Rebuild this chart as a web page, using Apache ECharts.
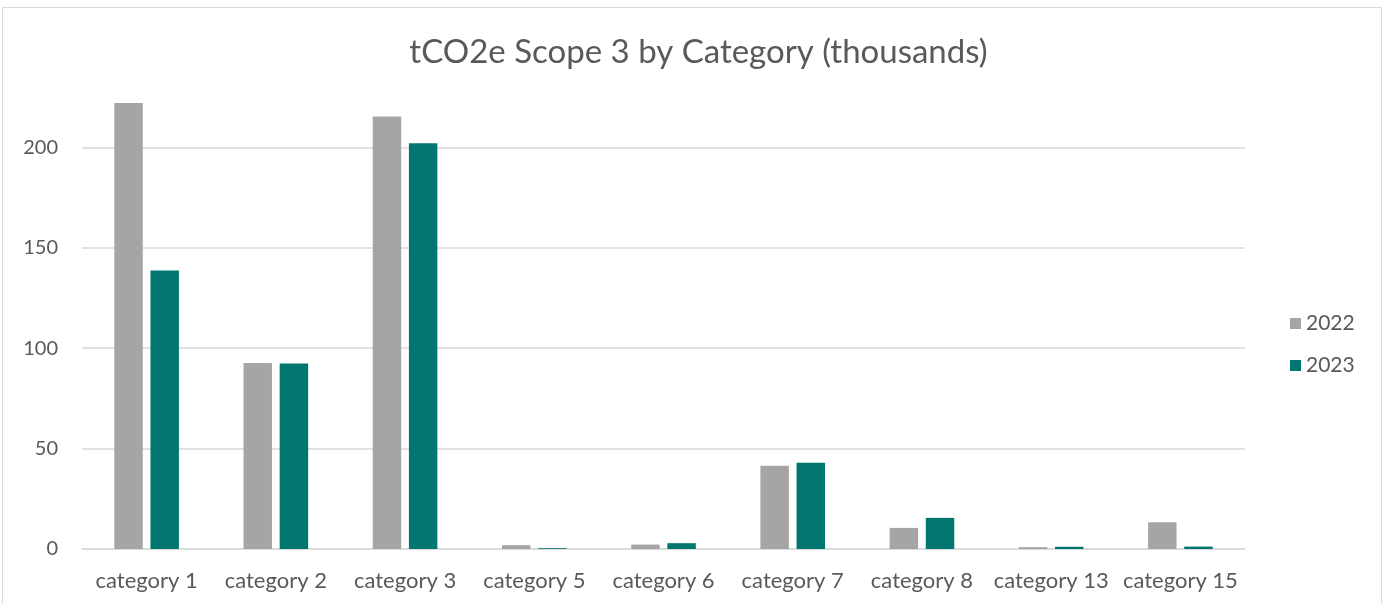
<!DOCTYPE html>
<html>
<head>
<meta charset="utf-8">
<script src="https://cdn.jsdelivr.net/npm/echarts@6/dist/echarts.min.js"></script>
<style>
html,body{margin:0;padding:0;background:#fff;}
#chart{width:1397px;height:604px;}
</style>
</head>
<body>
<div id="chart"></div>
<script>
const categories = ['category 1','category 2','category 3','category 5','category 6','category 7','category 8','category 13','category 15'];
const values2022 = [222, 92.6, 215.3, 1.9, 2.2, 41.5, 10.5, 0.9, 13.3];
const values2023 = [138.7, 92.3, 202, 0.4, 2.9, 43, 15.5, 1.1, 1.2];
const seriesNames = ['2022', '2023'];
const yTicks = [0, 50, 100, 150, 200];

const FONT = 'Lato, "Open Sans", sans-serif';
const chart = echarts.init(document.getElementById('chart'));
chart.setOption({
  animation: false,
  backgroundColor: '#ffffff',
  graphic: [{
    type: 'rect', silent: true, z: -10,
    shape: {x: 2.5, y: 7.5, width: 1379, height: 700},
    style: {fill: 'none', stroke: '#D9D9D9', lineWidth: 1}
  }],
  title: {
    text: 'tCO2e Scope 3 by Category (thousands)',
    left: 'center', top: 31,
    textStyle: {fontFamily: FONT, fontSize: 33, fontWeight: 'normal', color: '#595959'}
  },
  legend: {
    data: seriesNames,
    orient: 'vertical',
    left: 1285, top: 308,
    itemWidth: 11, itemHeight: 11, itemGap: 21,
    icon: 'rect',
    textStyle: {fontFamily: FONT, fontSize: 21, color: '#595959'}
  },
  grid: {left: 82, right: 152, top: 87, bottom: 55, containLabel: false},
  xAxis: {
    type: 'category',
    data: categories,
    axisTick: {show: false},
    axisLine: {lineStyle: {color: '#D9D9D9', width: 1.5}},
    axisLabel: {fontFamily: FONT, fontSize: 22, color: '#595959', margin: 21, interval: 0}
  },
  yAxis: {
    type: 'value',
    min: yTicks[0], max: 230, interval: 50,
    axisLine: {show: false},
    axisTick: {show: false},
    axisLabel: {fontFamily: FONT, fontSize: 20, color: '#595959', margin: 24, showMaxLabel: false},
    splitLine: {showMaxLine: false, lineStyle: {color: '#D9D9D9', width: 1.5}}
  },
  series: [
    {name: seriesNames[0], type: 'bar', data: values2022, itemStyle: {color: '#A5A5A5'}, barGap: '27%', barCategoryGap: '50%'},
    {name: seriesNames[1], type: 'bar', data: values2023, itemStyle: {color: '#00766F'}, barGap: '27%', barCategoryGap: '50%'}
  ]
});
</script>
</body>
</html>
